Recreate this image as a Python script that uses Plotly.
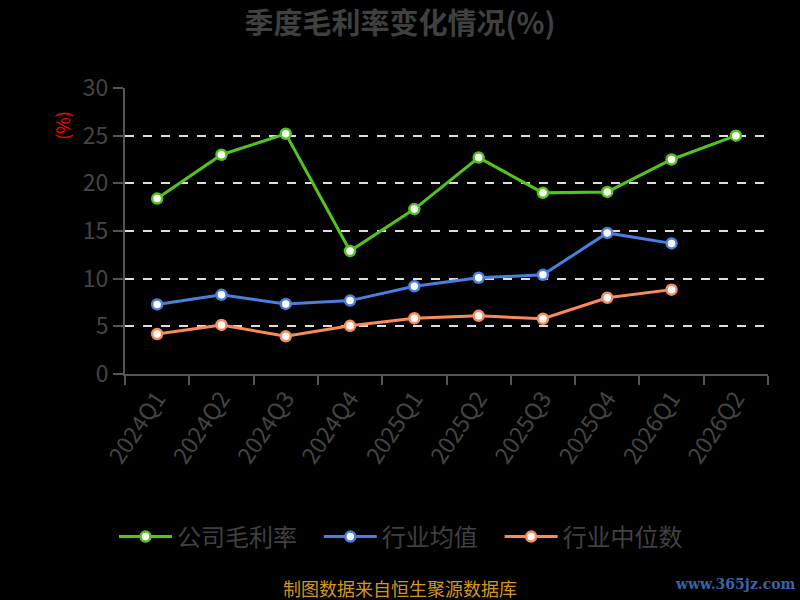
import plotly.graph_objects as go

categories = ["2024Q1", "2024Q2", "2024Q3", "2024Q4", "2025Q1", "2025Q2", "2025Q3", "2025Q4", "2026Q1", "2026Q2"]
company = [18.4, 23.0, 25.2, 12.9, 17.3, 22.7, 19.0, 19.1, 22.5, 25.0]
industry_avg = [7.3, 8.3, 7.35, 7.7, 9.2, 10.1, 10.4, 14.8, 13.7]
industry_median = [4.2, 5.15, 3.95, 5.05, 5.85, 6.1, 5.8, 8.0, 8.85]
y_ticks = [0, 5, 10, 15, 20, 25, 30]

series = [
    ("公司毛利率\u2002\u2009", company, "#52c41a"),
    ("行业均值\u2002\u2009", industry_avg, "#4a7fdf"),
    ("行业中位数", industry_median, "#fa8a5a"),
]

fig = go.Figure()
for name, vals, color in series:
    fig.add_trace(go.Scatter(
        x=categories[:len(vals)], y=vals, name=name, mode="lines+markers",
        line=dict(color=color, width=3),
        marker=dict(size=10, color="white", line=dict(color=color, width=2.5)),
    ))

font_family = "Noto Sans CJK SC, Noto Sans, sans-serif"
fig.update_layout(
    width=800, height=600,
    paper_bgcolor="black", plot_bgcolor="black",
    margin=dict(l=125, r=32, t=88, b=226),
    font=dict(family=font_family, color="#444444"),
    title=dict(text="<b>季度毛利率变化情况(%)</b>", x=0.5, xanchor="center", y=0.96, yanchor="middle",
               font=dict(size=29, color="#404040")),
    showlegend=True,
    legend=dict(orientation="h", x=(401 - 125) / 643, xanchor="center", y=-0.57, yanchor="middle",
                font=dict(size=24, color="#404040"), bgcolor="rgba(0,0,0,0)",
                itemwidth=53),
    xaxis=dict(
        type="category", categoryorder="array", categoryarray=categories,
        range=[-0.5, len(categories) - 0.5],
        tickson="boundaries", ticks="outside", ticklen=9, tickcolor="#555555", tickwidth=2,
        showline=True, linecolor="#555555", linewidth=2,
        showgrid=False, zeroline=False,
        tickangle=-56, tickfont=dict(size=23, color="#444444"),
    ),
    yaxis=dict(
        range=[0, 30], tickvals=y_ticks, ticks="outside", ticklen=10, tickcolor="#555555", tickwidth=2,
        showline=True, linecolor="#555555", linewidth=2,
        showgrid=True, gridcolor="#dddddd", griddash="dash", gridwidth=1.5,
        zeroline=False, tickfont=dict(size=23, color="#444444"),
    ),
)

fig.add_annotation(text="(%)", xref="paper", yref="paper", x=-0.097, y=0.87, textangle=-90,
                   showarrow=False, font=dict(size=18, color="#ff0000"), xanchor="center", yanchor="middle")
fig.add_annotation(text="制图数据来自恒生聚源数据库", xref="paper", yref="paper", x=(400 - 125) / 643,
                   y=(374 - 588) / 286, showarrow=False, font=dict(size=18, color="#d4961c"),
                   xanchor="center", yanchor="middle")
fig.add_annotation(text="<b>www.365jz.com</b>", xref="paper", yref="paper", x=(735 - 125) / 643,
                   y=(374 - 584) / 286, showarrow=False,
                   font=dict(size=14, color="#3b64a8", family="DejaVu Serif"),
                   xanchor="center", yanchor="middle")

fig.write_html("out.html", config={"displayModeBar": False},
               post_script="document.body.style.margin='0';document.body.style.background='black';")
